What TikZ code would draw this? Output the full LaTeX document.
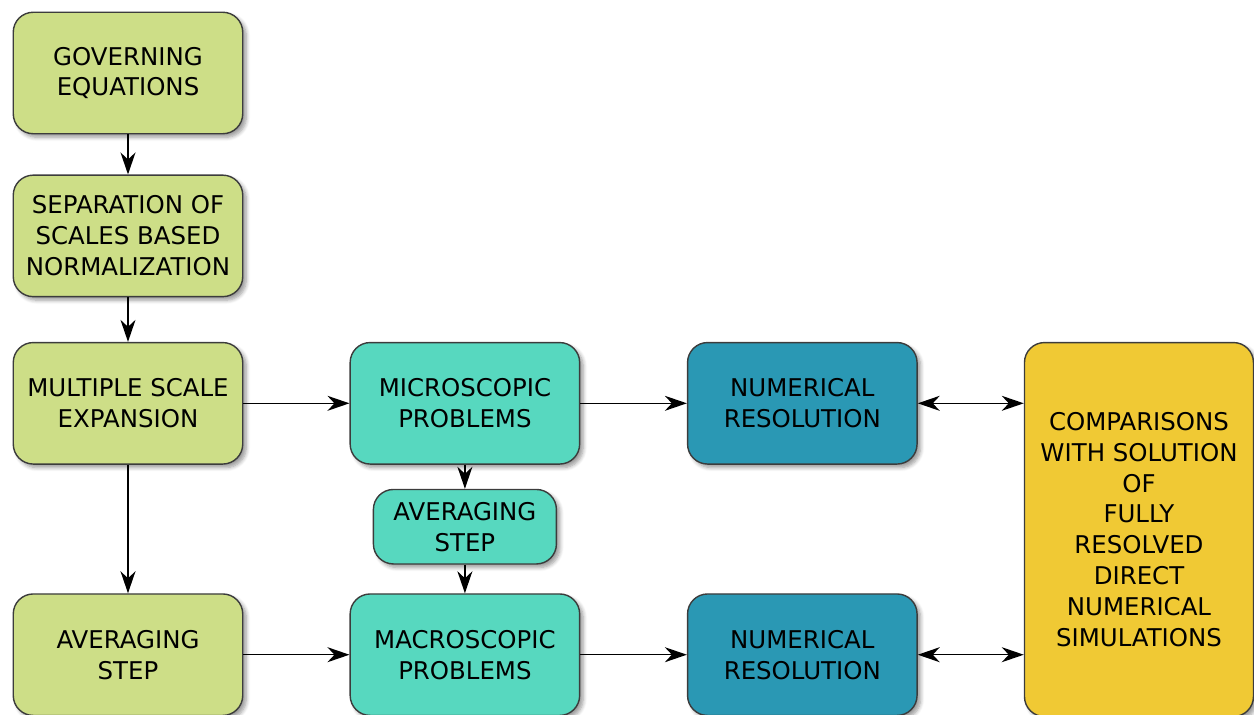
\documentclass[tikz,border=0pt]{standalone}
\usepackage{fontspec}
\setmainfont{DejaVu Sans}
\usepackage{xcolor}
\usepackage{tikz}
\usetikzlibrary{arrows.meta, positioning, shadows, shadows.blur}
\definecolor{StepGreen}{RGB}{205, 222, 135}
\definecolor{StepTeal}{RGB}{87, 216, 191}
\definecolor{StepBlue}{RGB}{42, 152, 180}
\definecolor{StepYellow}{RGB}{240, 201, 52}
\definecolor{StepBorder}{RGB}{60, 60, 60}

\begin{document}
\begin{tikzpicture}[
    >={Stealth[length=0.44cm, width=0.3cm, inset=0.14cm]},
    base/.style={
        rectangle, rounded corners=0.4cm, draw=StepBorder, thick,
        minimum width=4.59cm, minimum height=2.43cm, inner sep=2pt,
        align=center, font=\fontsize{13.9}{17.6}\selectfont,
        blur shadow={shadow xshift=0.07cm, shadow yshift=-0.07cm,
                     shadow blur steps=6, shadow opacity=40}
    },
    model/.style={base, fill=StepGreen},
    prob/.style={base, fill=StepTeal},
    solve/.style={base, fill=StepBlue},
    comp/.style={base, fill=StepYellow, minimum width=4.58cm, minimum height=7.48cm},
    arr/.style={->, line width=0.8pt, color=black}
]
\useasboundingbox (0,0) rectangle (25.08,-14.3);

% left column
\node[model] (gov) at (2.56,-1.46) {GOVERNING\\EQUATIONS};
\node[model, below=0.8cm of gov] (sep)
    {SEPARATION OF\\SCALES BASED\\NORMALIZATION};
\node[model, below=0.89cm of sep] (mult) {MULTIPLE SCALE\\EXPANSION};
\node[model, below=2.57cm of mult] (avgl) {AVERAGING\\STEP};

% problems
\node[prob, right=2.12cm of mult] (micro) {MICROSCOPIC\\PROBLEMS};
\node[prob, right=2.12cm of avgl] (macro) {MACROSCOPIC\\PROBLEMS};
\node[prob, below=0.48cm of micro, minimum width=3.66cm, minimum height=1.49cm]
    (avgm) {AVERAGING\\STEP};

% resolution
\node[solve, right=2.13cm of micro] (num1) {NUMERICAL\\RESOLUTION};
\node[solve, right=2.13cm of macro] (num2) {NUMERICAL\\RESOLUTION};

\node[comp, anchor=north west] (cmp) at ([xshift=2.12cm]num1.north east)
    {COMPARISONS\\WITH SOLUTION\\OF\\FULLY\\RESOLVED\\DIRECT\\NUMERICAL\\SIMULATIONS};

\draw[arr] (gov)  -- (sep);
\draw[arr] (sep)  -- (mult);
\draw[arr] (mult) -- (avgl);
\draw[arr] (mult) -- (micro);
\draw[arr] (micro) -- (num1);
\draw[arr] (micro) -- (avgm);
\draw[arr] (avgm) -- (macro);
\draw[arr] (avgl) -- (macro);
\draw[arr] (macro) -- (num2);
\draw[arr, <->] (num1.east) -- (num1.east -| cmp.west);
\draw[arr, <->] (num2.east) -- (num2.east -| cmp.west);

\end{tikzpicture}
\end{document}
